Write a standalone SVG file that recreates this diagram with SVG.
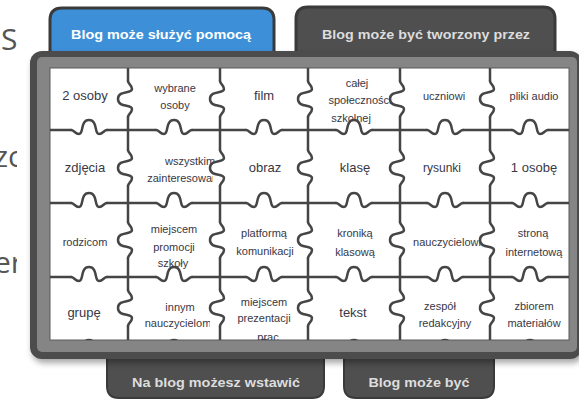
<svg xmlns="http://www.w3.org/2000/svg" width="579" height="401" viewBox="0 0 579 401">
<defs>
<style>
.bg-t{font-family:"Open Sans","DejaVu Sans",sans-serif;font-size:30px;fill:#555}
.tab-t{font-family:"Liberation Sans",Arial,sans-serif;font-weight:bold;font-size:13px;text-anchor:middle}
.s{font-family:"Liberation Sans",Arial,sans-serif;font-size:11px;fill:#383845;text-anchor:middle}
.l{font-size:13px}
.m{font-size:12px}
.line{fill:none;stroke:#454545;stroke-width:2.5;stroke-linecap:round}
.knob{fill:#fff;stroke:#454545;stroke-width:2.5;stroke-linecap:round}
.tabd{fill:#4f4f4f;stroke:#3a3a3a;stroke-width:2}
</style>
<path id="kv" d="M0,-18 C0,-15 4,-14 4,-10 C4,-5 -10,-9 -10,0 C-10,9 4,5 4,10 C4,14 0,15 0,18"/>
<clipPath id="clipL"><rect x="-10" y="0" width="27" height="401"/></clipPath>
<clipPath id="clipW"><rect x="50" y="68" width="519" height="272"/></clipPath>
<clipPath id="c22"><path d="M128,130 H220 V168 H213 V203 H128 Z"/></clipPath>
<clipPath id="c35"><rect x="400" y="203" width="82" height="74"/></clipPath>
<clipPath id="c42"><rect x="128" y="277" width="82" height="63"/></clipPath>
<filter id="sh" x="-10%" y="-10%" width="120%" height="130%"><feGaussianBlur stdDeviation="3"/></filter>
</defs>
<rect width="579" height="401" fill="#fff"/>
<g id="background-text" clip-path="url(#clipL)">
<text class="bg-t" x="1" y="50">S</text>
<text class="bg-t" x="-6" y="167">zo</text>
<text class="bg-t" x="-6" y="273">er</text>
</g>
<g id="tab-pomoc">
<path d="M50,58 V20 Q50,8 62,8 H262 Q274,8 274,20 V58 Z" fill="#3d8fd8" stroke="#3a3a3a" stroke-width="3"/>
<text class="tab-t" x="161" y="39" fill="#fff" textLength="180" lengthAdjust="spacingAndGlyphs">Blog może służyć pomocą</text>
</g>
<g id="tab-tworzony">
<path d="M296,58 V19 Q296,7 308,7 H543 Q555,7 555,19 V58 Z" fill="#4f4f4f" stroke="#3a3a3a" stroke-width="3"/>
<text class="tab-t" x="426" y="39" fill="#ddd" textLength="208" lengthAdjust="spacingAndGlyphs">Blog może być tworzony przez</text>
</g>
<g id="tab-wstawic">
<path class="tabd" d="M107,345 V386 Q107,398 119,398 H312 Q324,398 324,386 V345 Z"/>
<text class="tab-t" x="216" y="387" fill="#ddd" textLength="168" lengthAdjust="spacingAndGlyphs">Na blog możesz wstawić</text>
</g>
<g id="tab-byc">
<path class="tabd" d="M344,345 V386 Q344,398 356,398 H482 Q494,398 494,386 V345 Z"/>
<text class="tab-t" x="419" y="387" fill="#ddd" textLength="101" lengthAdjust="spacingAndGlyphs">Blog może być</text>
</g>
<g id="board">
<rect x="32" y="55" width="552" height="308" rx="12" fill="#000" opacity="0.35" filter="url(#sh)"/>
<rect x="30" y="51" width="552" height="308" rx="12" fill="#4c4c4c"/>
<rect x="37" y="57" width="540" height="295" rx="5" fill="#858585"/>
<rect x="50" y="68" width="519" height="272" fill="#fff" stroke="#5a5a5a" stroke-width="1"/>
</g>
<g id="pieces" clip-path="url(#clipW)">
<g id="p11"><text class="s l" x="85" y="100">2 osoby</text></g>
<g id="p12"><text class="s" x="175" y="92">wybrane</text><text class="s" x="175" y="109">osoby</text></g>
<g id="p13"><text class="s l" x="264" y="100">film</text></g>
<g id="p14"><text class="s" x="357" y="87">całej</text><text class="s" x="360" y="104">społeczności</text><text class="s" x="351" y="122">szkolnej</text></g>
<g id="p15"><text class="s" x="444" y="100">uczniowi</text></g>
<g id="p16"><text class="s" x="534" y="100">pliki audio</text></g>
<g id="p21"><text class="s l" x="85" y="172">zdjęcia</text></g>
<g id="p22" clip-path="url(#c22)"><text class="s" x="190" y="165">wszystkim</text><text class="s" x="190" y="182">zainteresowanym</text></g>
<g id="p23"><text class="s l" x="265" y="172">obraz</text></g>
<g id="p24"><text class="s l" x="355" y="172">klasę</text></g>
<g id="p25"><text class="s m" x="442" y="172">rysunki</text></g>
<g id="p26"><text class="s l" x="534" y="172">1 osobę</text></g>
<g id="p31"><text class="s" x="85" y="246">rodzicom</text></g>
<g id="p32"><text class="s" x="174" y="233">miejscem</text><text class="s" x="174" y="251">promocji</text><text class="s" x="173" y="267">szkoły</text></g>
<g id="p33"><text class="s" x="264" y="237">platformą</text><text class="s" x="265" y="255">komunikacji</text></g>
<g id="p34"><text class="s" x="355" y="237">kroniką</text><text class="s" x="355" y="256">klasową</text></g>
<g id="p35" clip-path="url(#c35)"><text class="s" x="447" y="246">nauczycielowi</text></g>
<g id="p36"><text class="s" x="533" y="237">stroną</text><text class="s" x="534" y="256">internetową</text></g>
<g id="p41"><text class="s l" x="84" y="317">grupę</text></g>
<g id="p42" clip-path="url(#c42)"><text class="s" x="180" y="311">innym</text><text class="s" x="178" y="327">nauczycielom</text></g>
<g id="p43"><text class="s" x="264" y="306">miejscem</text><text class="s" x="264" y="322">prezentacji</text><text class="s" x="268" y="341">prac</text></g>
<g id="p44"><text class="s l" x="353" y="317">tekst</text></g>
<g id="p45"><text class="s" x="440" y="310">zespół</text><text class="s" x="445" y="327">redakcyjny</text></g>
<g id="p46"><text class="s" x="534" y="310">zbiorem</text><text class="s" x="534" y="327">materiałów</text></g>
</g>
<g id="connectors" clip-path="url(#clipW)">
<path class="line" d="M128,68 V81 M128,117 V150 M128,186 V222 M128,258 V290 M128,326 V340
M220,68 V81 M220,117 V150 M220,186 V222 M220,258 V290 M220,326 V340
M308,68 V81 M308,117 V150 M308,186 V222 M308,258 V290 M308,326 V340
M400,68 V81 M400,117 V150 M400,186 V222 M400,258 V290 M400,326 V340
M490,68 V81 M490,117 V150 M490,186 V222 M490,258 V290 M490,326 V340
M50,130 H71 M107,130 H156 M192,130 H246 M282,130 H336 M372,130 H427 M463,130 H512 M548,130 H569
M50,203 H71 M107,203 H156 M192,203 H246 M282,203 H336 M372,203 H427 M463,203 H512 M548,203 H569
M50,277 H71 M107,277 H156 M192,277 H246 M282,277 H336 M372,277 H427 M463,277 H512 M548,277 H569"/>
<use href="#kv" class="knob" transform="translate(128,99)"/>
<use href="#kv" class="knob" transform="translate(128,168)"/>
<use href="#kv" class="knob" transform="translate(128,240)"/>
<use href="#kv" class="knob" transform="translate(128,308)"/>
<use href="#kv" class="knob" transform="translate(220,99)"/>
<use href="#kv" class="knob" transform="translate(220,168)"/>
<use href="#kv" class="knob" transform="translate(220,240)"/>
<use href="#kv" class="knob" transform="translate(220,308)"/>
<use href="#kv" class="knob" transform="translate(308,99)"/>
<use href="#kv" class="knob" transform="translate(308,168)"/>
<use href="#kv" class="knob" transform="translate(308,240)"/>
<use href="#kv" class="knob" transform="translate(308,308)"/>
<use href="#kv" class="knob" transform="translate(400,99)"/>
<use href="#kv" class="knob" transform="translate(400,168)"/>
<use href="#kv" class="knob" transform="translate(400,240)"/>
<use href="#kv" class="knob" transform="translate(400,308)"/>
<use href="#kv" class="knob" transform="translate(490,99)"/>
<use href="#kv" class="knob" transform="translate(490,168)"/>
<use href="#kv" class="knob" transform="translate(490,240)"/>
<use href="#kv" class="knob" transform="translate(490,308)"/>
<use href="#kv" class="knob" transform="translate(89,130) rotate(90)"/>
<use href="#kv" class="knob" transform="translate(174,130) rotate(90)"/>
<use href="#kv" class="knob" transform="translate(264,130) rotate(90)"/>
<use href="#kv" class="knob" transform="translate(354,130) rotate(90)"/>
<use href="#kv" class="knob" transform="translate(445,130) rotate(90)"/>
<use href="#kv" class="knob" transform="translate(530,130) rotate(90)"/>
<use href="#kv" class="knob" transform="translate(89,203) rotate(90)"/>
<use href="#kv" class="knob" transform="translate(174,203) rotate(90)"/>
<use href="#kv" class="knob" transform="translate(264,203) rotate(90)"/>
<use href="#kv" class="knob" transform="translate(354,203) rotate(90)"/>
<use href="#kv" class="knob" transform="translate(445,203) rotate(90)"/>
<use href="#kv" class="knob" transform="translate(530,203) rotate(90)"/>
<use href="#kv" class="knob" transform="translate(89,277) rotate(90)"/>
<use href="#kv" class="knob" transform="translate(174,277) rotate(90)"/>
<use href="#kv" class="knob" transform="translate(264,277) rotate(90)"/>
<use href="#kv" class="knob" transform="translate(354,277) rotate(90)"/>
<use href="#kv" class="knob" transform="translate(445,277) rotate(90)"/>
<use href="#kv" class="knob" transform="translate(530,277) rotate(90)"/>
<use href="#kv" class="knob" transform="translate(89,350) rotate(90)"/>
<use href="#kv" class="knob" transform="translate(174,350) rotate(90)"/>
<use href="#kv" class="knob" transform="translate(264,350) rotate(90)"/>
<use href="#kv" class="knob" transform="translate(354,350) rotate(90)"/>
<use href="#kv" class="knob" transform="translate(445,350) rotate(90)"/>
<use href="#kv" class="knob" transform="translate(530,350) rotate(90)"/>
</g>
</svg>
